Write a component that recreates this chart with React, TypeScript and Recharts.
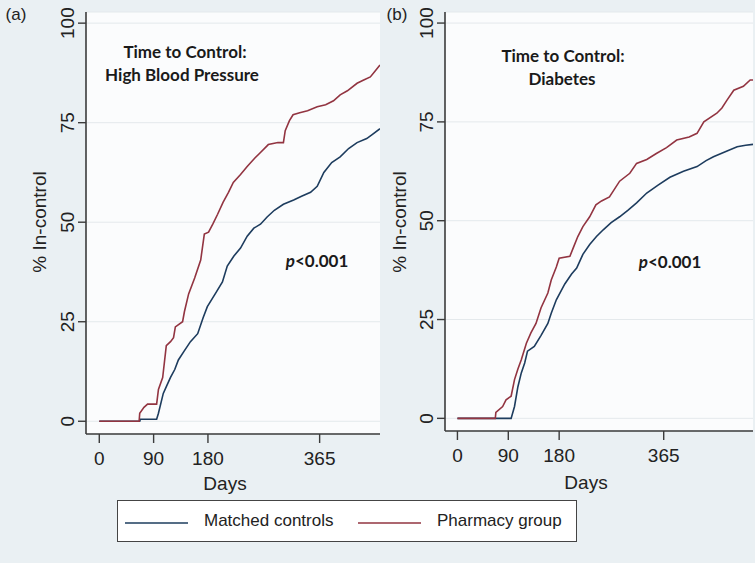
import React from "react";
import { LineChart, Line, XAxis, YAxis, CartesianGrid } from "recharts";

// [day, % in control]
const hbpPharmacy: [number, number][] = [
    [0, 0], [66, 0], [67, 2], [74, 3.5], [80, 4.3], [95, 4.3], [98, 8], [105, 11], [111, 19],
    [118, 20], [123, 21], [126, 23.7], [138, 25], [141, 27.5], [148, 32], [158, 36], [168, 40.5],
    [174, 47], [181, 47.5], [188, 49.5], [196, 52], [205, 55], [214, 57.5], [222, 60], [234, 62],
    [245, 64], [257, 66], [267, 67.5], [280, 69.5], [296, 70], [305, 70], [308, 73], [315, 75.5],
    [321, 77], [332, 77.5], [345, 78], [361, 79], [375, 79.5], [388, 80.5], [399, 82], [411, 83],
    [427, 84.9], [438, 85.7], [449, 86.5], [457, 88], [465, 89.5],
];
const hbpControls: [number, number][] = [
    [0, 0], [67, 0], [68, 0.5], [95, 0.5], [98, 2], [106, 7], [112, 9], [118, 11], [125, 13],
    [131, 15.4], [140, 17.5], [151, 20], [163, 22], [172, 26], [179, 28.8], [192, 32], [204, 35],
    [212, 39], [223, 41.5], [234, 43.5], [245, 46.5], [256, 48.5], [267, 49.5], [278, 51.3],
    [290, 53], [305, 54.5], [322, 55.6], [335, 56.5], [350, 57.5], [361, 59], [372, 62.5],
    [385, 65], [399, 66.4], [413, 68.5], [427, 70], [443, 71], [452, 72], [465, 73.5],
];
const dmPharmacy: [number, number][] = [
    [0, 0], [67, 0], [68, 1.5], [80, 3], [86, 4.7], [95, 5.6], [101, 9.8], [107, 12.5], [113, 14.8],
    [122, 19], [130, 21.6], [139, 24], [148, 28], [160, 31.7], [166, 35], [175, 38.3], [180, 40.5],
    [199, 41], [206, 43.5], [213, 46], [222, 48.5], [234, 51], [245, 54], [255, 55], [269, 56],
    [287, 60], [305, 62], [317, 64.5], [335, 65.5], [352, 67], [370, 68.5], [388, 70.4],
    [410, 71.2], [424, 72.1], [436, 75], [459, 77.2], [468, 78.5], [477, 80.5], [489, 83],
    [506, 84], [518, 85.6], [523, 85.6],
];
const dmControls: [number, number][] = [
    [0, 0], [95, 0], [101, 3], [107, 8], [113, 11.5], [119, 14], [124, 17], [136, 18.2], [148, 21],
    [160, 24], [166, 26.6], [175, 30], [190, 34], [202, 36.5], [211, 38], [222, 41.5], [234, 44],
    [246, 46], [258, 47.7], [272, 49.5], [287, 51], [302, 52.7], [317, 54.5], [335, 57], [355, 59],
    [376, 61], [400, 62.5], [424, 63.7], [440, 65.2], [453, 66.2], [475, 67.5], [495, 68.7],
    [510, 69.1], [523, 69.3],
];

const dayTicks = [0, 90, 180, 365];
const pctTicks = [0, 25, 50, 75, 100];

const NAVY = "#1d3c5e";
const MAROON = "#923441";
const AXIS = "#3b3b3b";
const FONT = "'Liberation Sans', Arial, sans-serif";
const NOTE_FONT = "Lato, 'Open Sans', sans-serif";

const toRows = (pts: [number, number][]) => pts.map(([day, pct]) => ({ day, pct }));

const XTick = (props: any) => {
    const { x, y, payload } = props;
    return (
        <text x={x} y={y + 13} textAnchor="middle" dominantBaseline="central" fontSize={19} fontFamily={FONT} fill="#222">
            {payload.value}
        </text>
    );
};

const YTick = (props: any) => {
    const { x, y, payload } = props;
    const cx = x - 8;
    return (
        <text x={cx} y={y} textAnchor="middle" dominantBaseline="central" transform={`rotate(-90, ${cx}, ${y})`}
            fontSize={19} fontFamily={FONT} fill="#222">
            {payload.value}
        </text>
    );
};

const Panel = ({ pharmacy, controls, xMax, width, height }: {
    pharmacy: [number, number][]; controls: [number, number][]; xMax: number; width: number; height: number;
}) => (
    <LineChart width={width} height={height} margin={{ top: 12, right: 2, left: 0, bottom: 0 }}>
        <CartesianGrid vertical={false} stroke="#e4e9ec" fill="#fbfcfd" />
        <XAxis type="number" dataKey="day" domain={[-22, xMax]} ticks={dayTicks} allowDataOverflow
            height={66} tickSize={9} tick={<XTick />}
            axisLine={{ stroke: AXIS, strokeWidth: 1.6 }} tickLine={{ stroke: AXIS, strokeWidth: 1.4 }} />
        <YAxis type="number" domain={[-3.2, 102.8]} ticks={pctTicks} allowDataOverflow
            width={86} tickSize={8} tick={<YTick />}
            axisLine={{ stroke: AXIS, strokeWidth: 1.6 }} tickLine={{ stroke: AXIS, strokeWidth: 1.4 }} />
        <Line data={toRows(controls)} dataKey="pct" type="linear" stroke={NAVY} strokeWidth={1.6}
            dot={false} isAnimationActive={false} name="Matched controls" />
        <Line data={toRows(pharmacy)} dataKey="pct" type="linear" stroke={MAROON} strokeWidth={1.6}
            dot={false} isAnimationActive={false} name="Pharmacy group" />
    </LineChart>
);

const abs = (left: number, top: number, extra: React.CSSProperties = {}): React.CSSProperties => ({
    position: "absolute", left, top, transform: "translate(-50%, -50%)", whiteSpace: "nowrap", ...extra,
});

const note: React.CSSProperties = { fontFamily: NOTE_FONT, fontWeight: 700, fontSize: 17, color: "#1a1a1a" };
const axisTitle: React.CSSProperties = { fontFamily: FONT, fontSize: 19, color: "#222" };

export default function App() {
    return (
        <div style={{ position: "absolute", left: 0, top: 0, width: 755, height: 563, background: "#eaf0f3", overflow: "hidden" }}>
            <div style={{ position: "absolute", left: 0, top: 0 }}>
                <Panel pharmacy={hbpPharmacy} controls={hbpControls} xMax={465} width={382} height={500} />
            </div>
            <div style={{ position: "absolute", left: 359, top: 0 }}>
                <Panel pharmacy={dmPharmacy} controls={dmControls} xMax={523} width={396} height={497} />
            </div>

            <div style={abs(16, 15, { fontFamily: FONT, fontSize: 17, color: "#222" })}>(a)</div>
            <div style={abs(397, 15, { fontFamily: FONT, fontSize: 17, color: "#222" })}>(b)</div>

            <div style={abs(40, 222, { ...axisTitle, transform: "translate(-50%, -50%) rotate(-90deg)" })}>% In-control</div>
            <div style={abs(400, 222, { ...axisTitle, transform: "translate(-50%, -50%) rotate(-90deg)" })}>% In-control</div>
            <div style={abs(225, 484, axisTitle)}>Days</div>
            <div style={abs(586, 483, axisTitle)}>Days</div>

            <div style={abs(185, 51, note)}>Time to Control:</div>
            <div style={abs(182, 74, note)}>High Blood Pressure</div>
            <div style={abs(317, 260, note)}><i>p</i>&lt;0.001</div>
            <div style={abs(563, 55, note)}>Time to Control:</div>
            <div style={abs(562, 78, note)}>Diabetes</div>
            <div style={abs(670, 261, note)}><i>p</i>&lt;0.001</div>

            <div style={{
                position: "absolute", left: 117, top: 500, width: 460, height: 42, boxSizing: "border-box",
                border: "1px solid #444", background: "#fff", fontFamily: FONT, fontSize: 17, color: "#222",
            }}>
                <svg width={460} height={42} style={{ position: "absolute", left: 0, top: 0 }}>
                    <line x1={7} x2={70} y1={22} y2={22} stroke={NAVY} strokeWidth={1.6} />
                    <line x1={240} x2={303} y1={22} y2={22} stroke={MAROON} strokeWidth={1.6} />
                </svg>
                <span style={{ position: "absolute", left: 86, top: 10 }}>Matched controls</span>
                <span style={{ position: "absolute", left: 319, top: 10 }}>Pharmacy group</span>
            </div>
        </div>
    );
}
